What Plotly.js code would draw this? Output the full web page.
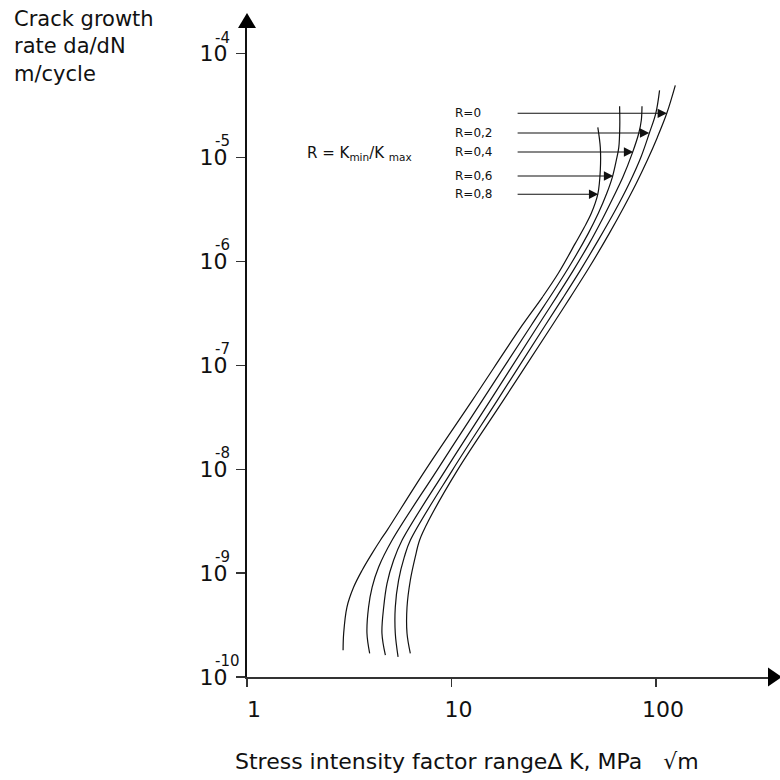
<!DOCTYPE html>
<html>
<head>
<meta charset="utf-8">
<script src="https://cdn.plot.ly/plotly-3.0.1.min.js"></script>
<style>html,body{margin:0;padding:0;background:#fff;}#chart{width:780px;height:780px;}</style>
</head>
<body>
<div id="chart"></div>
<script>
// ---- data (ΔK in MPa·√m, da/dN in m/cycle) ----
const seriesNames = ['R=0', 'R=0,2', 'R=0,4', 'R=0,6', 'R=0,8'];

const K_R0  = [6.29,6.06,6.06,6.29,6.65,6.98,7.74,10.68,17.92,31.11,38.09,47.19,59.11,69.58,80.12,90.68,101.5,112.9,124.3];
const da_R0 = [1.69e-10,2.64e-10,4.69e-10,8.53e-10,1.43e-9,2.07e-9,3.22e-9,9.75e-9,4.60e-8,2.43e-7,4.51e-7,8.77e-7,1.86e-6,3.32e-6,5.65e-6,9.40e-6,1.56e-5,2.66e-5,4.95e-5];

const K_R02  = [5.48,5.31,5.31,5.51,5.88,6.29,10.09,16.75,28.75,35.22,42.64,52.23,63.24,74.03,84.28,92.72,99.77,104.1];
const da_R02 = [1.56e-10,2.64e-10,4.69e-10,8.53e-10,1.43e-9,2.07e-9,9.75e-9,4.60e-8,2.43e-7,4.51e-7,8.20e-7,1.60e-6,3.10e-6,5.65e-6,1.00e-5,1.71e-5,2.66e-5,4.43e-5];

const K_R04  = [4.75,4.57,4.66,4.84,5.21,5.73,9.33,15.48,26.57,32.54,39.41,47.19,55.26,61.83,68.82,76.58,82.38,84.76,85.42];
const da_R04 = [1.62e-10,2.64e-10,4.69e-10,7.98e-10,1.33e-9,2.07e-9,9.75e-9,4.60e-8,2.43e-7,4.51e-7,8.20e-7,1.49e-6,2.66e-6,4.14e-6,6.44e-6,1.10e-5,1.71e-5,2.28e-5,3.11e-5];

const K_R06  = [3.98,3.86,3.93,4.09,4.40,5.12,8.49,14.15,24.56,31.83,38.52,46.67,52.23,57.46,61.14,63.96,65.78,66.53,66.39];
const da_R06 = [1.69e-10,2.64e-10,4.69e-10,7.30e-10,1.14e-9,2.07e-9,9.75e-9,4.60e-8,2.43e-7,5.27e-7,9.59e-7,1.86e-6,2.90e-6,4.52e-6,6.44e-6,9.40e-6,1.25e-5,2.04e-5,3.11e-5];

const K_R08  = [2.95,2.97,3.08,3.32,3.65,4.09,4.49,4.84,7.44,12.64,22.19,27.80,33.29,40.31,44.61,48.27,51.94,53.42,53.42,51.94];
const da_R08 = [1.81e-10,2.64e-10,4.69e-10,7.30e-10,1.06e-9,1.55e-9,2.07e-9,2.58e-9,9.75e-9,4.60e-8,2.43e-7,4.51e-7,7.68e-7,1.49e-6,2.13e-6,2.90e-6,4.43e-6,7.53e-6,1.25e-5,1.95e-5];

// arrows pointing at each curve (tip on the curve, tail at a common ΔK)
const arrowTipK = [113.2, 92.7, 77.4, 61.8, 52.2];
const arrowY    = [2.66e-5, 1.72e-5, 1.13e-5, 6.64e-6, 4.43e-6];
const arrowTailK = 20.7;

// axis ticks
const xTickVals = [1, 10, 100];
const xTickText = ['1', '10', '100'];
const yTickVals = [1e-10, 1e-9, 1e-8, 1e-7, 1e-6, 1e-5, 1e-4];
const yTickExp  = ['-10', '-9', '-8', '-7', '-6', '-5', '-4'];

// ---- figure ----
const FONT = 'DejaVu Sans, Verdana, sans-serif';
const ink = '#111';

const curveK  = [K_R0, K_R02, K_R04, K_R06, K_R08];
const curveDa = [da_R0, da_R02, da_R04, da_R06, da_R08];

const traces = curveK.map((k, i) => ({
  type: 'scatter', mode: 'lines', name: seriesNames[i],
  x: k, y: curveDa[i],
  line: {color: ink, width: 1.2, shape: 'spline', smoothing: 1},
  hoverinfo: 'skip'
}));

const annotations = [];

// exponents of the y tick labels
yTickVals.forEach((v, i) => {
  annotations.push({
    xref: 'paper', yref: 'y', x: -0.065, y: Math.log10(v),
    xanchor: 'left', yanchor: 'middle', yshift: 16,
    text: yTickExp[i], showarrow: false,
    font: {family: FONT, size: 15, color: ink}
  });
});

// arrows + R labels
seriesNames.forEach((nm, i) => {
  annotations.push({
    xref: 'x', yref: 'y', axref: 'x', ayref: 'y',
    x: Math.log10(arrowTipK[i]), y: Math.log10(arrowY[i]),
    ax: Math.log10(arrowTailK), ay: Math.log10(arrowY[i]),
    text: '', showarrow: true, arrowhead: 2, arrowsize: 1.7, arrowwidth: 1.1, arrowcolor: ink
  });
  annotations.push({
    xref: 'paper', yref: 'y', x: 0.394, y: Math.log10(arrowY[i]),
    xanchor: 'left', yanchor: 'middle', showarrow: false,
    text: nm, font: {family: FONT, size: 12, color: ink}
  });
});

// R definition
annotations.push({
  xref: 'paper', yref: 'paper', x: 0.111, y: 0.807, xanchor: 'left', yanchor: 'middle',
  showarrow: false, text: 'R = K<sub>min</sub>/K <sub>max</sub>',
  font: {family: FONT, size: 15, color: ink}
});

// y axis title (top left)
annotations.push({
  xref: 'paper', yref: 'paper', x: -0.449, y: 1.036, xanchor: 'left', yanchor: 'top', align: 'left',
  showarrow: false, text: 'Crack growth<br>rate da/dN<br>m/cycle',
  font: {family: FONT, size: 21, color: ink}
});

// x axis title
annotations.push({
  xref: 'paper', yref: 'paper', x: 0.421, y: -0.13, xanchor: 'center', yanchor: 'middle',
  showarrow: false, text: 'Stress intensity factor range\u2206 K, MPa\u00a0\u00a0\u00a0\u221Am',
  font: {family: FONT, size: 22, color: ink}
});

const layout = {
  width: 780, height: 780,
  margin: {l: 247, r: 10, t: 28, b: 103, pad: 0},
  paper_bgcolor: '#fff', plot_bgcolor: '#fff',
  showlegend: false,
  font: {family: FONT, color: ink},
  xaxis: {
    type: 'log', range: [0, 2.5575],
    tickvals: xTickVals, ticktext: xTickText,
    ticks: 'outside', ticklen: 8, tickwidth: 1.3, tickcolor: '#333',
    showline: true, linecolor: '#333', linewidth: 2,
    showgrid: false, zeroline: false,
    tickfont: {family: FONT, size: 22, color: ink},
    ticklabelshift: 7, ticklabelstandoff: 4
  },
  yaxis: {
    type: 'log', range: [-10, -3.754],
    tickvals: yTickVals, ticktext: yTickVals.map(() => '10'),
    ticks: 'outside', ticklen: 9, tickwidth: 1.3, tickcolor: '#333',
    showline: true, linecolor: '#111', linewidth: 2,
    showgrid: false, zeroline: false,
    tickfont: {family: FONT, size: 22, color: ink},
    ticklabelstandoff: 4
  },
  shapes: [
    {type: 'path', xref: 'paper', yref: 'paper',
     path: 'M -0.0172,1.0 L 0.0172,1.0 L 0,1.0231 Z', fillcolor: '#000', line: {width: 0}},
    {type: 'path', xref: 'paper', yref: 'paper',
     path: 'M 0.9962,0.0146 L 0.9962,-0.0146 L 1.0229,0 Z', fillcolor: '#000', line: {width: 0}}
  ],
  annotations: annotations
};

Plotly.newPlot('chart', traces, layout, {displayModeBar: false, staticPlot: true});
</script>
</body>
</html>
